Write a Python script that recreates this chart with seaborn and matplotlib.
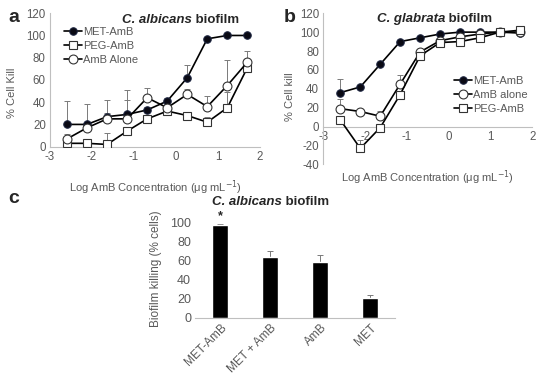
import numpy as np
import pandas as pd
import matplotlib
matplotlib.use("Agg")
import matplotlib.pyplot as plt
import seaborn as sns

# log10 AmB concentration (3-fold dilutions)
log_conc = [-2.594, -2.117, -1.640, -1.163, -0.686, -0.209, 0.268, 0.745, 1.222, 1.699]

# panel a - C. albicans
a_met = [20, 20, 27, 29, 33, 41, 62, 97, 100, 100]
a_met_err = [21, 18, 15, 22, 3, 3, 11, 2, 1, 1]
a_peg = [3, 3, 2, 14, 25, 32, 28, 22, 35, 71]
a_peg_err = [2, 2, 10, 3, 3, 3, 3, 5, 14, 3]
a_amb = [7, 17, 25, 25, 44, 35, 47, 36, 55, 76]
a_amb_err = [4, 4, 5, 17, 9, 3, 5, 10, 23, 10]

# panel b - C. glabrata
b_met = [36, 42, 66, 90, 94, 98, 100, 100, 100, 99]
b_met_err = [14, 2, 2, 2, 2, 1, 1, 1, 1, 1]
b_amb = [19, 16, 11, 45, 79, 91, 95, 98, 100, 100]
b_amb_err = [10, 2, 6, 10, 2, 2, 1, 1, 1, 1]
b_peg = [7, -23, -1, 34, 75, 89, 90, 94, 100, 102]
b_peg_err = [2, 9, 2, 3, 2, 2, 2, 1, 1, 1]

# panel c - bars
c_groups = ['MET-AmB', 'MET + AmB', 'AmB', 'MET']
c_vals = [98, 64, 59, 21]
c_errs = [1, 6, 7, 3]

sns.set_style("white")
plt.rcParams['font.family'] = ['Liberation Sans', 'DejaVu Sans']
plt.rcParams['axes.unicode_minus'] = False
grey = '#595959'
spine_c = '#bfbfbf'

fig = plt.figure(figsize=(5.5, 3.78), dpi=100)
ax_a = fig.add_axes([0.0909, 0.612, 0.3818, 0.353])
ax_b = fig.add_axes([0.588, 0.565, 0.380, 0.400])
ax_c = fig.add_axes([0.355, 0.160, 0.364, 0.263])

styles = {
    'MET': dict(marker='o', markersize=5.4, markerfacecolor='#0a0a14', markeredgecolor='#1c2540'),
    'PEG': dict(marker='s', markersize=5.8, markerfacecolor='white', markeredgecolor='#333333', markeredgewidth=0.8),
    'AMB': dict(marker='o', markersize=6.4, markerfacecolor='white', markeredgecolor='#333333', markeredgewidth=0.8),
}


def draw_series(ax, y, err, key, label):
    ax.errorbar(log_conc, y, yerr=[np.zeros(len(err)), err], fmt='none',
                ecolor='#7a7a7a', elinewidth=0.7, capsize=2, capthick=0.7, zorder=1)
    sns.lineplot(x=log_conc, y=y, ax=ax, color='black', linewidth=1.2,
                 label=label, zorder=3, **styles[key])


def style_axes(ax):
    for s in ['top', 'right']:
        ax.spines[s].set_visible(False)
    for s in ['left', 'bottom']:
        ax.spines[s].set_color(spine_c)
        ax.spines[s].set_linewidth(0.8)
    ax.tick_params(axis='both', length=0, labelsize=8.3, labelcolor=grey, pad=3)


# ---- panel a ----
draw_series(ax_a, a_met, a_met_err, 'MET', 'MET-AmB')
draw_series(ax_a, a_peg, a_peg_err, 'PEG', 'PEG-AmB')
draw_series(ax_a, a_amb, a_amb_err, 'AMB', 'AmB Alone')
ax_a.set_xlim(-3, 2)
ax_a.set_ylim(0, 120)
ax_a.set_xticks(range(-3, 3))
ax_a.set_yticks(range(0, 121, 20))
style_axes(ax_a)
ax_a.set_xlabel('Log AmB Concentration (μg mL$^{-1}$)', fontsize=8, color=grey)
ax_a.set_ylabel('% Cell Kill', fontsize=8, color=grey)
ax_a.xaxis.set_label_coords(0.5, -0.235)
ax_a.yaxis.set_label_coords(-0.155, 0.40)
ax_a.legend(loc='upper left', bbox_to_anchor=(0.045, 0.93), frameon=False,
            fontsize=8, handlelength=1.6, handletextpad=0.1, labelspacing=0.35,
            borderaxespad=0, labelcolor=grey)
t = ax_a.text(0.345, 0.95, 'C. albicans', transform=ax_a.transAxes, fontsize=9.5,
              fontweight='bold', fontstyle='italic', ha='left', va='center')
ax_a.annotate(' biofilm', xy=(1, 0.5), xycoords=t, fontsize=9.5, fontweight='bold',
              ha='left', va='center')

# ---- panel b ----
draw_series(ax_b, b_met, b_met_err, 'MET', 'MET-AmB')
draw_series(ax_b, b_amb, b_amb_err, 'AMB', 'AmB alone')
draw_series(ax_b, b_peg, b_peg_err, 'PEG', 'PEG-AmB')
ax_b.set_xlim(-3, 2)
ax_b.set_ylim(-40, 120)
ax_b.set_xticks(range(-3, 3))
ax_b.set_yticks(range(-40, 121, 20))
style_axes(ax_b)
ax_b.spines['bottom'].set_position(('data', 0))
ax_b.set_xlabel('Log AmB Concentration (μg mL$^{-1}$)', fontsize=8, color=grey)
ax_b.set_ylabel('% Cell kill', fontsize=8, color=grey)
ax_b.xaxis.set_label_coords(0.5, -0.025)
ax_b.yaxis.set_label_coords(-0.135, 0.45)
ax_b.legend(loc='center right', bbox_to_anchor=(1.0, 0.46), frameon=False,
            fontsize=8, handlelength=1.6, handletextpad=0.1, labelspacing=0.35,
            borderaxespad=0, labelcolor=grey)
t = ax_b.text(0.255, 0.96, 'C. glabrata', transform=ax_b.transAxes, fontsize=9.5,
              fontweight='bold', fontstyle='italic', ha='left', va='center')
ax_b.annotate(' biofilm', xy=(1, 0.5), xycoords=t, fontsize=9.5, fontweight='bold',
              ha='left', va='center')

# ---- panel c ----
df_c = pd.DataFrame({'group': c_groups, 'kill': c_vals})
sns.barplot(data=df_c, x='group', y='kill', color='black', width=0.32,
            saturation=1, ax=ax_c, zorder=2)
ax_c.errorbar(range(len(c_groups)), c_vals, yerr=[np.zeros(len(c_errs)), c_errs],
              fmt='none', ecolor='#7a7a7a', elinewidth=0.7, capsize=2, capthick=0.7, zorder=1)
ax_c.set_xlim(-0.5, 3.5)
ax_c.set_ylim(0, 105)
ax_c.set_yticks(range(0, 101, 20))
style_axes(ax_c)
ax_c.spines['left'].set_visible(False)
ax_c.tick_params(axis='y', labelsize=9)
ax_c.tick_params(axis='x', labelsize=8.5)
for lab in ax_c.get_xticklabels():
    lab.set_rotation(45)
    lab.set_ha('right')
    lab.set_rotation_mode('anchor')
ax_c.set_xlabel('')
ax_c.set_ylabel('Biofilm killing (% cells)', fontsize=8.5, color=grey)
ax_c.yaxis.set_label_coords(-0.165, 0.49)
ax_c.text(0, 101, '*', ha='center', va='bottom', fontsize=9, fontweight='bold')
t = ax_c.text(0.083, 1.16, 'C. albicans', transform=ax_c.transAxes, fontsize=9.5,
              fontweight='bold', fontstyle='italic', ha='left', va='center')
ax_c.annotate(' biofilm', xy=(1, 0.5), xycoords=t, fontsize=9.5, fontweight='bold',
              ha='left', va='center')

# panel letters
fig.text(0.015, 0.955, 'a', fontsize=14, fontweight='bold', va='center')
fig.text(0.515, 0.955, 'b', fontsize=14, fontweight='bold', va='center')
fig.text(0.015, 0.475, 'c', fontsize=14, fontweight='bold', va='center')

fig.savefig('out.png', dpi=100)
